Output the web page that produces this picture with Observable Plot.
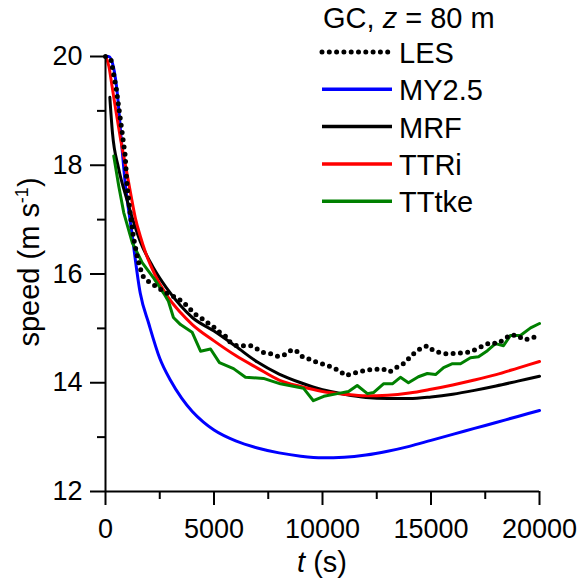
<!DOCTYPE html>
<html>
<head>
<meta charset="utf-8">
<script src="https://cdn.jsdelivr.net/npm/d3@7"></script>
<script src="https://cdn.jsdelivr.net/npm/@observablehq/plot@0.6"></script>
<style>
  html, body { margin: 0; padding: 0; background: white; }
  #chart { width: 582px; height: 579px; position: relative; }
</style>
</head>
<body>
<div id="chart"></div>
<script>
// ---- data ----
const lesT = [0, 250, 500, 650, 800, 900, 1000, 1150, 1300, 1500, 1700, 1950, 2400, 2850, 3350, 3750, 4100, 4450, 4750, 5000, 5250, 5550, 5700, 6050, 6350, 6750, 7000, 7300, 7650, 7970, 8300, 8600, 8850, 9120, 9450, 9770, 10140, 10460, 10780, 11060, 11390, 11700, 12070, 12400, 12760, 13090, 13410, 13730, 13960, 14240, 14520, 14840, 15120, 15440, 15760, 16130, 16500, 16820, 17140, 17420, 17740, 18060, 18340, 18660, 18990, 19260, 19590, 19910];
const lesV = [20.0, 19.95, 19.4, 18.95, 18.5, 18.2, 17.6, 17.07, 16.65, 16.25, 15.97, 15.87, 15.75, 15.64, 15.55, 15.42, 15.27, 15.18, 15.09, 15.02, 14.93, 14.85, 14.76, 14.68, 14.68, 14.68, 14.62, 14.55, 14.53, 14.48, 14.52, 14.61, 14.57, 14.46, 14.43, 14.37, 14.33, 14.28, 14.22, 14.13, 14.17, 14.2, 14.24, 14.24, 14.26, 14.2, 14.28, 14.35, 14.44, 14.55, 14.63, 14.68, 14.59, 14.55, 14.53, 14.54, 14.55, 14.57, 14.63, 14.68, 14.74, 14.72, 14.79, 14.88, 14.87, 14.79, 14.81, 14.87];

const myT = [0, 150, 370, 550, 700, 900, 1200, 1600, 2000, 2500, 3000, 3500, 4000, 4500, 5000, 6000, 7000, 8000, 9000, 10000, 11000, 12000, 13000, 14000, 15000, 16000, 17000, 18000, 19000, 20000];
const myV = [20.0, 20.0, 19.8, 19.3, 18.6, 17.7, 16.8, 15.65, 15.08, 14.45, 14.04, 13.72, 13.47, 13.28, 13.13, 12.93, 12.8, 12.71, 12.65, 12.62, 12.63, 12.67, 12.74, 12.83, 12.94, 13.05, 13.16, 13.27, 13.38, 13.49];

const mrfT = [200, 320, 600, 1000, 1600, 2200, 2800, 3456, 4000, 5000, 6000, 7000, 8000, 9000, 10000, 11000, 12000, 13000, 14000, 15000, 16000, 17000, 18000, 19000, 20000];
const mrfV = [19.25, 18.6, 17.95, 17.35, 16.6, 16.12, 15.75, 15.42, 15.2, 14.95, 14.67, 14.38, 14.16, 14.0, 13.87, 13.79, 13.73, 13.71, 13.71, 13.74, 13.79, 13.86, 13.94, 14.03, 14.12];

const ttriT = [0, 150, 300, 500, 700, 920, 1150, 1380, 1600, 1840, 2300, 2800, 3456, 4000, 5000, 6000, 7000, 8000, 9000, 10000, 11000, 12000, 13000, 14000, 15000, 16000, 17000, 18000, 19000, 20000];
const ttriV = [20.0, 19.83, 19.46, 18.95, 18.47, 18.0, 17.5, 17.02, 16.7, 16.4, 15.97, 15.62, 15.29, 15.07, 14.77, 14.5, 14.27, 14.05, 13.93, 13.84, 13.79, 13.76, 13.77, 13.81, 13.88, 13.96, 14.05, 14.15, 14.27, 14.39];

const tttkeT = [380, 610, 840, 1230, 1690, 2230, 2690, 2900, 3130, 3456, 3990, 4380, 4840, 5250, 5900, 6450, 7280, 8060, 9120, 9580, 10060, 10690, 11200, 11600, 12070, 12350, 12810, 13220, 13590, 13960, 14420, 14830, 15210, 15580, 15990, 16360, 16820, 17190, 17600, 17970, 18340, 18660, 19120, 19590, 20000];
const tttkeV = [18.17, 17.62, 17.13, 16.58, 16.21, 15.92, 15.64, 15.5, 15.2, 15.07, 14.93, 14.58, 14.62, 14.37, 14.26, 14.1, 14.08, 13.98, 13.9, 13.67, 13.75, 13.8, 13.84, 13.95, 13.8, 13.82, 13.98, 13.98, 14.1, 14.0, 14.11, 14.17, 14.15, 14.28, 14.35, 14.35, 14.46, 14.48, 14.59, 14.72, 14.68, 14.87, 14.87, 15.01, 15.09];

const xMajor = [0, 5000, 10000, 15000, 20000];
const xMinor = [2500, 7500, 12500, 17500];
const yMajor = [12, 14, 16, 18, 20];
const yMinor = [13, 15, 17, 19];

const seriesNames = ["LES", "MY2.5", "MRF", "TTRi", "TTtke"];
const seriesColors = ["black", "#0000ff", "black", "#ff0000", "#008000"];

const toRows = (ts, vs) => ts.map((t, i) => ({t, v: vs[i]}));
const les = toRows(lesT, lesV);
const my = toRows(myT, myV);
const mrf = toRows(mrfT, mrfV);
const ttri = toRows(ttriT, ttriV);
const tttke = toRows(tttkeT, tttkeV);

const FONT = "'Liberation Sans', Arial, Helvetica, sans-serif";

// layout
const W = 582, H = 579, ML = 105, MR = 43, MT = 56, MB = 88;
const xDomain = [0, 20000], yDomain = [12, 20];
// tick lengths (pixels) expressed in data units so the ticks sit outside the frame
const xPerPx = (xDomain[1] - xDomain[0]) / (W - ML - MR);
const yPerPx = (yDomain[1] - yDomain[0]) / (H - MT - MB);
const xTickMajor = 15 * xPerPx, xTickMinor = 8 * xPerPx;
const yTickMajor = 14 * yPerPx, yTickMinor = 8 * yPerPx;

const chart = Plot.plot({
  width: W,
  height: H,
  marginLeft: ML,
  marginRight: MR,
  marginTop: MT,
  marginBottom: MB,
  style: {fontFamily: FONT, fontSize: "27px", background: "white", overflow: "visible", color: "black"},
  x: {domain: xDomain},
  y: {domain: yDomain},
  marks: [
    // tick labels
    Plot.axisX({ticks: xMajor, tickSize: 0, tickPadding: 27, tickFormat: d3.format("d"), label: null, fontSize: 27}),
    Plot.axisY({ticks: yMajor, tickSize: 0, tickPadding: 23, tickFormat: d3.format("d"), label: null, fontSize: 27}),
    // series
    Plot.line(my, {x: "t", y: "v", stroke: seriesColors[1], strokeWidth: 3, curve: "monotone-x"}),
    Plot.line(mrf, {x: "t", y: "v", stroke: seriesColors[2], strokeWidth: 3, curve: "monotone-x"}),
    Plot.line(ttri, {x: "t", y: "v", stroke: seriesColors[3], strokeWidth: 3, curve: "monotone-x"}),
    Plot.line(tttke, {x: "t", y: "v", stroke: seriesColors[4], strokeWidth: 3}),
    Plot.line(les, {x: "t", y: "v", stroke: seriesColors[0], strokeWidth: 5, strokeDasharray: "0 7.3", strokeLinecap: "round", strokeLinejoin: "round"}),
    // tick marks (outward)
    Plot.ruleX(xMajor, {x: d => d, y1: yDomain[0], y2: yDomain[0] - yTickMajor, strokeWidth: 2}),
    Plot.ruleX(xMinor, {x: d => d, y1: yDomain[0], y2: yDomain[0] - yTickMinor, strokeWidth: 2}),
    Plot.ruleY(yMajor, {y: d => d, x1: xDomain[0] - xTickMajor, x2: xDomain[0], strokeWidth: 2}),
    Plot.ruleY(yMinor, {y: d => d, x1: xDomain[0] - xTickMinor, x2: xDomain[0], strokeWidth: 2}),
    // axis lines
    Plot.ruleY([12], {strokeWidth: 2}),
    Plot.ruleX([0], {strokeWidth: 2})
  ]
});

document.getElementById("chart").appendChild(chart);

// ---- axis titles and legend (text) ----
const svg = d3.select(chart);
const xl = svg.append("text")
  .attr("x", 322).attr("y", 572)
  .attr("text-anchor", "middle")
  .style("font-family", FONT).style("font-size", "29px").attr("fill", "black");
xl.append("tspan").style("font-style", "italic").text("t");
xl.append("tspan").text(" (s)");

const yl = svg.append("text")
  .attr("transform", "translate(39,262) rotate(-90)")
  .attr("text-anchor", "middle")
  .style("font-family", FONT).style("font-size", "29px").attr("fill", "black");
yl.append("tspan").text("speed (m s");
yl.append("tspan").attr("dy", -11).style("font-size", "18px").text("-1");
yl.append("tspan").attr("dy", 11).text(")");

const lg = svg.append("g").style("font-family", FONT).style("font-size", "29px").attr("text-anchor", "start");
const title = lg.append("text").attr("x", 323).attr("y", 28).attr("fill", "black").attr("text-anchor", "start");
title.append("tspan").text("GC, ");
title.append("tspan").style("font-style", "italic").text("z");
title.append("tspan").text(" = 80 m");

seriesNames.forEach((name, i) => {
  const cy = 52 + i * 37.3;
  const ln = lg.append("line")
    .attr("x1", 322).attr("x2", 392).attr("y1", cy).attr("y2", cy)
    .attr("stroke", seriesColors[i]);
  if (i === 0) {
    ln.attr("stroke-width", 5).attr("stroke-dasharray", "0 7.3").attr("stroke-linecap", "round");
  } else {
    ln.attr("stroke-width", 3.5);
  }
  lg.append("text").attr("x", 399).attr("y", cy + 11).attr("fill", "black").attr("text-anchor", "start").text(name);
});
</script>
</body>
</html>
